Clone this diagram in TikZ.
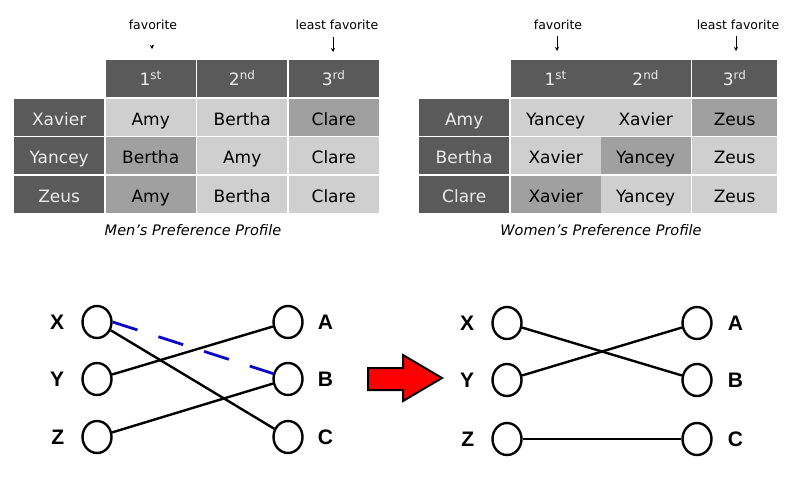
\documentclass[tikz,border=0pt]{standalone}
\usepackage{fontspec}
\setmainfont{DejaVu Sans}
\setsansfont{Liberation Sans}
\usetikzlibrary{matrix,positioning,shapes.geometric,arrows.meta}

\definecolor{hdrgray}{HTML}{5A5A5A}
\definecolor{cellgray}{HTML}{CFCFCF}
\definecolor{pickgray}{HTML}{A0A0A0}
\definecolor{dashblue}{HTML}{0A0ACC}

\begin{document}
\begin{tikzpicture}[x=1pt,y=-1pt,
    hdr/.style={fill=hdrgray, text=white!92!black, text height=14pt},
    who/.style={fill=hdrgray, text=white!92!black},
    cell/.style={fill=cellgray},
    pick/.style={fill=pickgray},
    narrow/.style={minimum width=85pt},
    note/.style={font=\fontsize{12.5}{14}\selectfont, inner sep=0},
    pointer/.style={line width=0.9pt, -{Stealth[length=4pt,width=4pt]}},
    caption/.style={font=\fontsize{14.5}{16}\selectfont\itshape, inner sep=0},
    vert/.style={draw, ellipse, line width=2.4pt, minimum width=29pt, minimum height=32pt, inner sep=0},
    vname/.style={font=\sffamily\bfseries\fontsize{21}{24}\selectfont, inner sep=0},
    pair/.style={line width=2.4pt},
    swap/.style={line width=2.8pt, color=dashblue, dash pattern=on 26pt off 22pt},
    bigarrow/.style={draw=black, line width=2pt, fill=red, line join=miter}
  ]
  \useasboundingbox (0,0) rectangle (792,488);

  % men's table
  \matrix (m) [matrix of nodes, anchor=north west, inner sep=0pt,
    column sep=1.5pt, row sep=1.5pt,
    nodes={minimum width=90pt, minimum height=37pt, inner sep=0, anchor=center,
      text height=16pt, text depth=0pt, font=\fontsize{17}{20}\selectfont}
    ] at (14,60)
  {
                 & |[hdr]| 1\textsuperscript{st} & |[hdr]| 2\textsuperscript{nd} & |[hdr]| 3\textsuperscript{rd} \\
    |[who]| Xavier & |[cell]| Amy    & |[cell]| Bertha & |[pick]| Clare \\
    |[who]| Yancey & |[pick]| Bertha & |[cell]| Amy    & |[cell]| Clare \\
    |[who]| Zeus   & |[pick]| Amy    & |[cell]| Bertha & |[cell]| Clare \\
  };

  % women's table
  \matrix (w) [matrix of nodes, anchor=north west, inner sep=0pt,
    column sep=1.5pt, row sep=1.5pt,
    nodes={minimum width=90pt, minimum height=37pt, inner sep=0, anchor=center,
      text height=16pt, text depth=0pt, font=\fontsize{17}{20}\selectfont}
    ] at (419,60)
  {
                 & |[hdr]| 1\textsuperscript{st} &[-1.5pt] |[hdr]| 2\textsuperscript{nd} & |[hdr,narrow]| 3\textsuperscript{rd} \\
    |[who]| Amy    & |[cell]| Yancey &[-1.5pt] |[cell]| Xavier & |[pick,narrow]| Zeus \\
    |[who]| Bertha & |[cell]| Xavier &[-1.5pt] |[pick]| Yancey & |[cell,narrow]| Zeus \\
    |[who]| Clare  & |[pick]| Xavier &[-1.5pt] |[cell]| Yancey & |[cell,narrow]| Zeus \\
  };

  % notes above the tables
  \node[note] (fav-m) at (153,25) {favorite};
  \node[note] (lfav-m) at (337,25) {least favorite};
  \node[note] (fav-w) at (558,25) {favorite};
  \node[note] (lfav-w) at (738,25) {least favorite};
  \coordinate (fav-m-top) at (152,45);
  \coordinate (fav-m-tip) at (152,49);
  \coordinate (lfav-m-top) at (333,37);
  \coordinate (lfav-m-tip) at (333,52);
  \coordinate (fav-w-top) at (557,36);
  \coordinate (fav-w-tip) at (557,51);
  \coordinate (lfav-w-top) at (736,36);
  \coordinate (lfav-w-tip) at (736,51);
  \draw[pointer] (fav-m-top) -- (fav-m-tip);
  \draw[pointer] (lfav-m-top) -- (lfav-m-tip);
  \draw[pointer] (fav-w-top) -- (fav-w-tip);
  \draw[pointer] (lfav-w-top) -- (lfav-w-tip);

  \node[caption] (cap-m) at (193,230) {Men's Preference Profile};
  \node[caption] (cap-w) at (601,230) {Women's Preference Profile};

  % matching before
  \node[vert] (X1) at (97,322) {};
  \node[vert] (Y1) at (97,379) {};
  \node[vert] (Z1) at (97,437) {};
  \node[vert] (A1) at (288,322) {};
  \node[vert] (B1) at (288,379) {};
  \node[vert] (C1) at (288,437) {};
  \node[vname, left=17pt of X1] {X};
  \node[vname, left=17pt of Y1] {Y};
  \node[vname, left=17pt of Z1] {Z};
  \node[vname, right=14pt of A1] {A};
  \node[vname, right=14pt of B1] {B};
  \node[vname, right=14pt of C1] {C};
  \draw[pair] (X1) -- (C1);
  \draw[pair] (Y1) -- (A1);
  \draw[pair] (Z1) -- (B1);
  \draw[swap] (X1.east) -- (B1.160);

  \draw[bigarrow] (368,368) -- (403,368) -- (403,355) -- (442,378)
    -- (403,401) -- (403,390) -- (368,390) -- cycle;

  % matching after
  \node[vert] (X2) at (507,323) {};
  \node[vert] (Y2) at (507,380) {};
  \node[vert] (Z2) at (507,439) {};
  \node[vert] (A2) at (697,323) {};
  \node[vert] (B2) at (697,380) {};
  \node[vert] (C2) at (697,439) {};
  \node[vname, left=17pt of X2] {X};
  \node[vname, left=17pt of Y2] {Y};
  \node[vname, left=17pt of Z2] {Z};
  \node[vname, right=15pt of A2] {A};
  \node[vname, right=15pt of B2] {B};
  \node[vname, right=15pt of C2] {C};
  \draw[pair] (X2) -- (B2);
  \draw[pair] (Y2) -- (A2);
  \draw[pair] (Z2) -- (C2);
\end{tikzpicture}
\end{document}
